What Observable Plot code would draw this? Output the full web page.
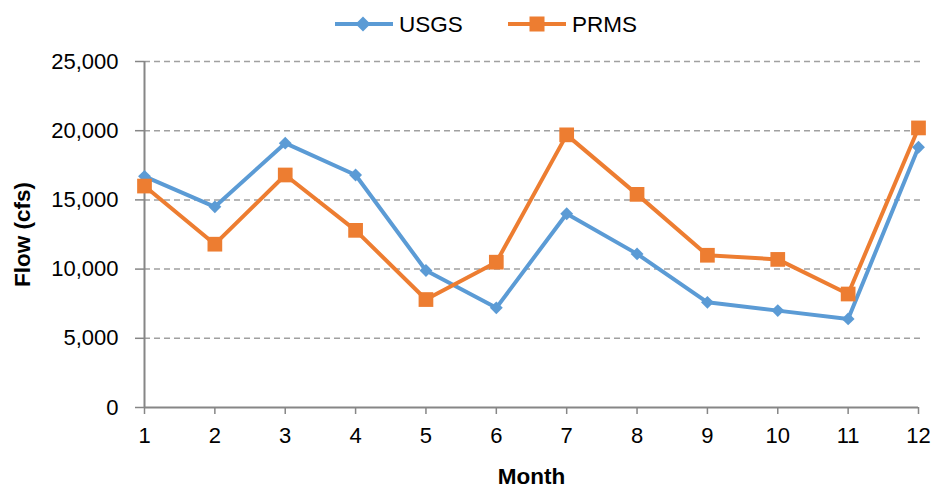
<!DOCTYPE html>
<html>
<head>
<meta charset="utf-8">
<script src="https://cdn.jsdelivr.net/npm/d3@7"></script>
<script src="https://cdn.jsdelivr.net/npm/@observablehq/plot@0.6"></script>
<style>
  body { margin: 0; background: #fff; font-family: "Liberation Sans", Arial, sans-serif; }
  #legend { height: 48px; position: relative; }
  #legend svg { position: absolute; left: 0; top: 0; }
</style>
</head>
<body>
<div id="legend"></div>
<div id="chart"></div>
<script>
const months = [1, 2, 3, 4, 5, 6, 7, 8, 9, 10, 11, 12];
const usgs = [16700, 14500, 19100, 16800, 9900, 7200, 14000, 11100, 7600, 7000, 6400, 18800];
const prms = [16000, 11800, 16800, 12800, 7800, 10500, 19700, 15400, 11000, 10700, 8200, 20200];
const seriesNames = ["USGS", "PRMS"];
const seriesColors = ["#5B9BD5", "#ED7D31"];
const yTicks = [0, 5000, 10000, 15000, 20000, 25000];

const data = [
  ...months.map((m, i) => ({month: m, flow: usgs[i], series: "USGS"})),
  ...months.map((m, i) => ({month: m, flow: prms[i], series: "PRMS"}))
];
const usgsData = data.filter(d => d.series === "USGS");
const prmsData = data.filter(d => d.series === "PRMS");

// Legend
const ns = "http://www.w3.org/2000/svg";
const lg = document.createElementNS(ns, "svg");
lg.setAttribute("width", 933); lg.setAttribute("height", 48);
lg.innerHTML = `
  <line x1="335" y1="24" x2="393" y2="24" stroke="${seriesColors[0]}" stroke-width="4"/>
  <path d="M363,16.5 L370.5,24 L363,31.5 L355.5,24 Z" fill="${seriesColors[0]}"/>
  <text x="399" y="32" font-size="22.5" font-family="Liberation Sans, Arial, sans-serif" fill="#000">${seriesNames[0]}</text>
  <line x1="508" y1="24" x2="566" y2="24" stroke="${seriesColors[1]}" stroke-width="4"/>
  <rect x="529.5" y="16.5" width="15" height="15" fill="${seriesColors[1]}"/>
  <text x="572" y="32" font-size="22.5" font-family="Liberation Sans, Arial, sans-serif" fill="#000">${seriesNames[1]}</text>`;
document.getElementById("legend").appendChild(lg);

const chart = Plot.plot({
  width: 933,
  height: 447,
  marginTop: 13,
  marginBottom: 88,
  marginLeft: 144,
  marginRight: 15,
  style: {fontFamily: "Liberation Sans, Arial, sans-serif", fontSize: "22px", color: "#000", background: "#fff"},
  x: {domain: [1, 12], ticks: months, tickFormat: d => String(d), label: null},
  y: {domain: [0, 25000], ticks: yTicks, tickFormat: d3.format(","), label: null},
  marks: [
    Plot.ruleY(yTicks.filter(t => t > 0), {x1: 1, x2: 12.03, stroke: "#a0a0a0", strokeWidth: 1.5, strokeDasharray: "6,4", strokeOpacity: 1}),
    Plot.axisY({ticks: yTicks, tickFormat: d3.format(","), tickSize: 9, tickPadding: 17, stroke: "#868686", strokeWidth: 1.5, label: null, fontSize: 22}),
    Plot.axisX({ticks: months, tickFormat: d => String(d), tickSize: 7, tickPadding: 13, stroke: "#868686", strokeWidth: 1.5, label: null, fontSize: 22}),
    Plot.ruleY([0], {stroke: "#868686", strokeWidth: 2}),
    Plot.ruleX([1], {y1: 0, y2: 25000, stroke: "#868686", strokeWidth: 2}),
    Plot.line(usgsData, {x: "month", y: "flow", stroke: seriesColors[0], strokeWidth: 4}),
    Plot.line(prmsData, {x: "month", y: "flow", stroke: seriesColors[1], strokeWidth: 4}),
    Plot.dot(usgsData, {x: "month", y: "flow", symbol: "diamond2", r: 5.8, fill: seriesColors[0], stroke: "none"}),
    Plot.dot(prmsData, {x: "month", y: "flow", symbol: "square", r: 8.3, fill: seriesColors[1], stroke: "none"}),
    Plot.text(["Flow (cfs)"], {frameAnchor: "left", dx: -122, rotate: -90, textAnchor: "middle", fontSize: 22.5, fontWeight: "bold", fill: "#000"}),
    Plot.text(["Month"], {frameAnchor: "bottom", dy: 76, textAnchor: "middle", fontSize: 22.5, fontWeight: "bold", fill: "#000"})
  ]
});
document.getElementById("chart").appendChild(chart);
</script>
</body>
</html>
